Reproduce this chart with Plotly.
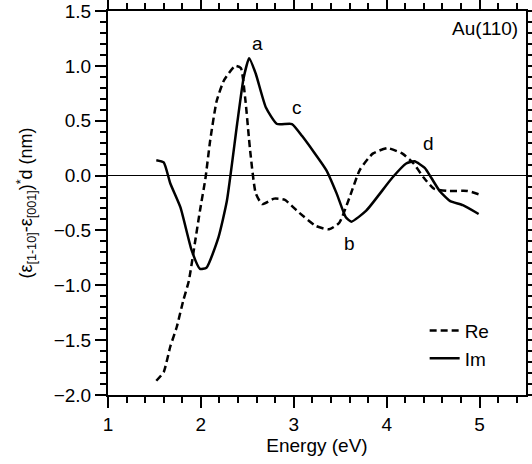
import plotly.graph_objects as go

# Re (dashed)
re_x = [1.52, 1.60, 1.67, 1.74, 1.81, 1.87, 1.94, 1.99, 2.05, 2.10, 2.17, 2.25, 2.37, 2.43, 2.48, 2.53, 2.59, 2.66,
        2.79, 2.90, 3.06, 3.24, 3.38, 3.49, 3.60, 3.71, 3.85, 4.01, 4.17, 4.29, 4.40, 4.51, 4.65, 4.87, 4.99]
re_y = [-1.87, -1.79, -1.56, -1.38, -1.14, -0.96, -0.59, -0.32, -0.02, 0.32, 0.68, 0.87, 1.00, 0.98, 0.68, 0.23, -0.16, -0.26,
        -0.21, -0.22, -0.34, -0.46, -0.49, -0.43, -0.20, 0.05, 0.20, 0.25, 0.20, 0.11, -0.02, -0.12, -0.14, -0.14, -0.17]

# Im (solid)
im_x = [1.52, 1.60, 1.67, 1.78, 1.90, 1.99, 2.06, 2.19, 2.28, 2.39, 2.46, 2.52, 2.59, 2.70, 2.82, 2.98,
        3.09, 3.35, 3.46, 3.56, 3.62, 3.78, 4.06, 4.21, 4.30, 4.41, 4.48, 4.57, 4.68, 4.82, 4.99]
im_y = [0.14, 0.12, -0.07, -0.29, -0.68, -0.85, -0.84, -0.56, -0.23, 0.47, 0.89, 1.07, 0.93, 0.62, 0.47, 0.47,
        0.36, 0.05, -0.16, -0.38, -0.42, -0.32, -0.02, 0.11, 0.13, 0.07, -0.02, -0.14, -0.23, -0.27, -0.35]

labels = ["a", "b", "c", "d"]
label_x = [2.61, 3.60, 3.04, 4.45]
label_y = [1.20, -0.62, 0.62, 0.29]

FONT = "Liberation Sans"

fig = go.Figure()
fig.add_trace(go.Scatter(x=re_x, y=re_y, mode="lines", name="Re",
                         line=dict(color="black", width=2.5, dash="7px,4px", shape="spline", smoothing=0.5)))
fig.add_trace(go.Scatter(x=im_x, y=im_y, mode="lines", name="Im",
                         line=dict(color="black", width=2.5, shape="spline", smoothing=0.5)))

for t, x, y in zip(labels, label_x, label_y):
    fig.add_annotation(x=x, y=y, text=t, showarrow=False, font=dict(size=19, color="black", family=FONT))
fig.add_annotation(x=0.985, y=0.955, xref="paper", yref="paper", text="Au(110)", showarrow=False,
                   xanchor="right", yanchor="middle", font=dict(size=19, color="black", family=FONT))

fig.update_layout(
    xaxis=dict(range=[1, 5.5], tickmode="linear", tick0=1, dtick=1,
               showline=True, linecolor="black", linewidth=2, mirror="allticks",
               ticks="outside", ticklen=11, tickwidth=1.5, tickcolor="black",
               minor=dict(tickmode="linear", tick0=1, dtick=0.2, ticks="outside", ticklen=6, tickwidth=1.5, tickcolor="black"),
               showgrid=False, zeroline=False, automargin=False,
               tickfont=dict(size=19, color="black", family=FONT),
               title=dict(text="Energy (eV)", font=dict(size=19, color="black", family=FONT), standoff=4)),
    yaxis=dict(range=[-2.0, 1.5], tickmode="linear", tick0=-2.0, dtick=0.5, tickformat=".1f",
               showline=True, linecolor="black", linewidth=2, mirror="allticks",
               ticks="outside", ticklen=11, tickwidth=1.5, tickcolor="black",
               minor=dict(tickmode="linear", tick0=-2.0, dtick=0.1, ticks="outside", ticklen=6, tickwidth=1.5, tickcolor="black"),
               showgrid=False, automargin=False,
               zeroline=True, zerolinecolor="black", zerolinewidth=1.2,
               tickfont=dict(size=19, color="black", family=FONT),
               title=dict(text="(ε<sub>[1-10]</sub>-ε<sub>[001]</sub>)<sup>*</sup>d (nm)",
                          font=dict(size=18, color="black", family=FONT), standoff=16)),
    width=532, height=464, margin=dict(l=108, r=6, t=11, b=69),
    plot_bgcolor="rgba(0,0,0,0)", paper_bgcolor="white",
    showlegend=True,
    legend=dict(x=0.925, y=0.045, xanchor="right", yanchor="bottom",
                bgcolor="rgba(0,0,0,0)", font=dict(size=19, color="black", family=FONT),
                tracegroupgap=0))

fig.write_html("out.html")
